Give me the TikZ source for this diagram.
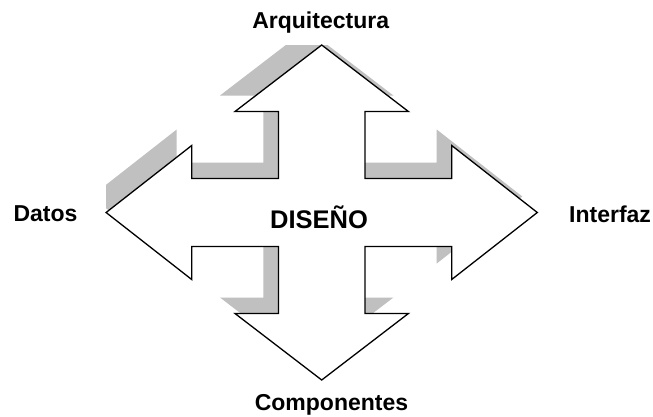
\documentclass[tikz,border=0pt]{standalone}
\usepackage{fontspec}
\setmainfont{Liberation Sans}
\definecolor{shadowgray}{RGB}{192,192,192}
\tikzset{
  lbl/.style={font=\fontsize{23}{27}\selectfont\bfseries, inner sep=0pt},
  biglbl/.style={font=\fontsize{25.5}{30}\selectfont\bfseries, inner sep=0pt},
  crossline/.style={draw=black, line width=1.3pt, line join=miter, fill=white},
  crossshadow/.style={fill=shadowgray, draw=none}
}
\def\crosspath{(321.7,45) -- (408.4,111.5) -- (365,111.5) -- (365,178.5) -- (451.7,178.5) -- (451.7,145.5) -- (537.3,212.5) -- (451.7,279.5) -- (451.7,246.5) -- (365,246.5) -- (365,313.5) -- (408.4,313.5) -- (321.7,380) -- (235,313.5) -- (278.4,313.5) -- (278.4,246.5) -- (191.7,246.5) -- (191.7,279.5) -- (106.1,212.5) -- (191.7,145.5) -- (191.7,178.5) -- (278.4,178.5) -- (278.4,111.5) -- (235,111.5) -- cycle}
\begin{document}
\begin{tikzpicture}[x=1pt,y=-1pt]
\useasboundingbox (0,0) rectangle (653,416);
\fill[white] (0,0) rectangle (653,416);
\begin{scope}
  \clip (106.1,45) rectangle (537.3,380);
  \begin{scope}[shift={(-15,-16)}]
    \path[crossshadow] \crosspath;
  \end{scope}
\end{scope}
\path[crossline] \crosspath;
\node[lbl, anchor=base] (arq) at (320.7,28.3) {Arquitectura};
\node[lbl, anchor=base west] (datos) at (13.3,221.7) {Datos};
\node[lbl, anchor=base west] (interfaz) at (569,222.5) {Interfaz};
\node[lbl, anchor=base] (comp) at (331.5,410) {Componentes};
\node[biglbl, anchor=base] (diseno) at (319,228) {DISEÑO};
\end{tikzpicture}
\end{document}
